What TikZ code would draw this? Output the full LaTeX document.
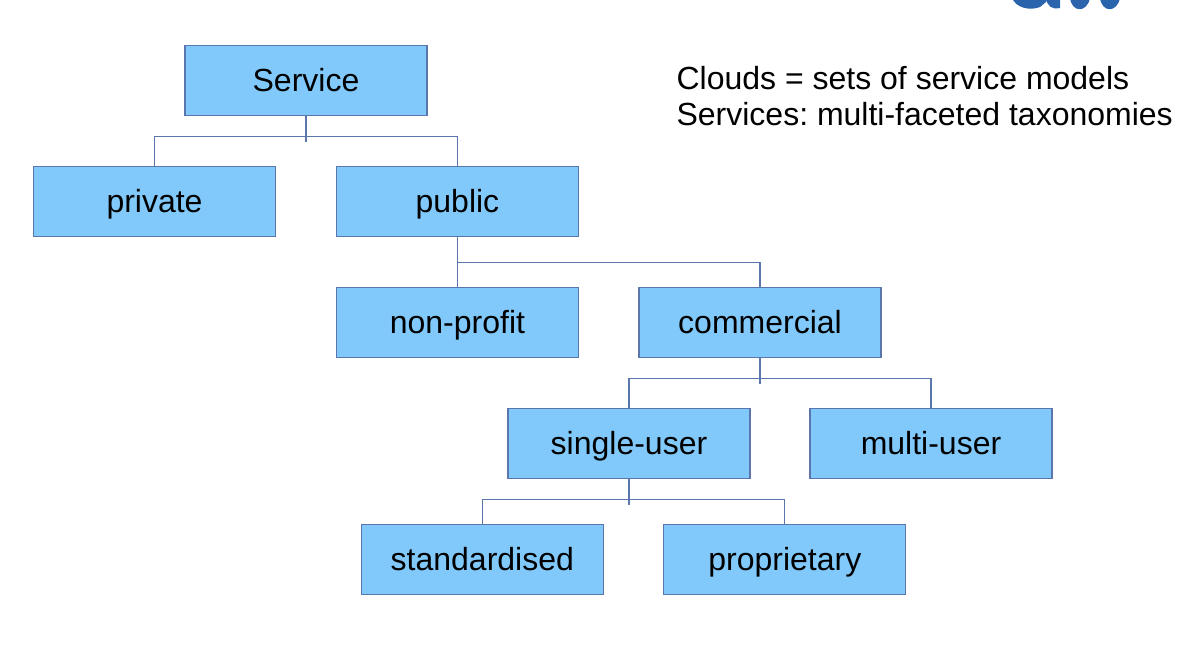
\documentclass[tikz,border=0pt]{standalone}
\usepackage{fontspec}
\setmainfont{Liberation Sans}
\usepackage{tikz}
\usetikzlibrary{positioning}
\definecolor{boxfill}{HTML}{81C9FB}
\definecolor{boxline}{HTML}{5A76AC}
\definecolor{logoblue}{HTML}{2A64AC}
\tikzset{
	servicebox/.style={draw=boxline, fill=boxfill, line width=0.8pt, minimum width=181.5pt, minimum height=53pt, inner sep=0pt, text height=20pt, text depth=3.5pt, font=\fontsize{24}{28}\selectfont},
	link/.style={draw=boxline, line width=0.8pt},
	caption/.style={align=left, inner sep=0pt, font=\frenchspacing\fontsize{24}{27}\selectfont}
}

\begin{document}
\begin{tikzpicture}[node distance=90.75pt,on grid]
	\node[servicebox] (service) {Service};
	\node[servicebox] (private) [below left=90.75pt and 113.6pt of service] {private};
	\node[servicebox] (public) [below right=90.75pt and 113.6pt of service] {public};
	\node[servicebox] (nonprofit) [below=of public] {non-profit};
	\node[servicebox] (commercial) [right=226.9pt of nonprofit] {commercial};
	\node[servicebox] (singleuser) [below left=90.75pt and 98.25pt of commercial] {single-user};
	\node[servicebox] (multiuser) [below right=90.75pt and 128.25pt of commercial] {multi-user};
	\node[servicebox] (standardised) [below left=87pt and 110pt of singleuser] {standardised};
	\node[servicebox] (proprietary) [right=226.9pt of standardised] {proprietary};
	\node[caption] (clouds) [below right=12pt and 464pt of service] {Clouds = sets of service models\\Services: multi-faceted taxonomies};

	% bus lines, each with the short stub below its parent
	\coordinate (serviceBus) at ([yshift=-15pt]service.south);
	\coordinate (serviceStub) at ([yshift=-19pt]service.south);
	\coordinate (publicBus) at ([yshift=-18.75pt]public.south);
	\coordinate (commercialBus) at ([yshift=-15pt]commercial.south);
	\coordinate (commercialStub) at ([yshift=-19pt]commercial.south);
	\coordinate (singleBus) at ([yshift=-15pt]singleuser.south);
	\coordinate (singleStub) at ([yshift=-19pt]singleuser.south);

	\draw[link] (service.south) -- (serviceStub);
	\draw[link] (private.north) |- (serviceBus) -| (public.north);
	\draw[link] (public.south) -- (nonprofit.north);
	\draw[link] (publicBus) -| (commercial.north);
	\draw[link] (commercial.south) -- (commercialStub);
	\draw[link] (singleuser.north) |- (commercialBus) -| (multiuser.north);
	\draw[link] (singleuser.south) -- (singleStub);
	\draw[link] (standardised.north) |- (singleBus) -| (proprietary.north);

	% page frame, and what is left of the logo at the top edge
	\useasboundingbox ([xshift=-229.5pt,yshift=60.4pt]service.center) coordinate (corner) rectangle +(894pt,-484.5pt);
	\begin{scope}[shift={(corner)},x=0.75pt,y=-0.75pt]
		\clip (0,0) rectangle (1192,646);
		\fill[logoblue] (1012,-2) .. controls (1016,8) and (1030,11) .. (1040,7) -- (1046,2) -- (1048,-2) -- cycle;
		\fill[logoblue] (1046,-2) .. controls (1047,6) and (1052,10) .. (1060,8) -- (1060,-2) -- cycle;
		\fill[logoblue] (1070,-2) .. controls (1072,13) and (1087,13) .. (1090,-2) -- cycle;
		\fill[logoblue] (1100,-2) .. controls (1102,13) and (1117,13) .. (1120,-2) -- cycle;
	\end{scope}
\end{tikzpicture}
\end{document}
